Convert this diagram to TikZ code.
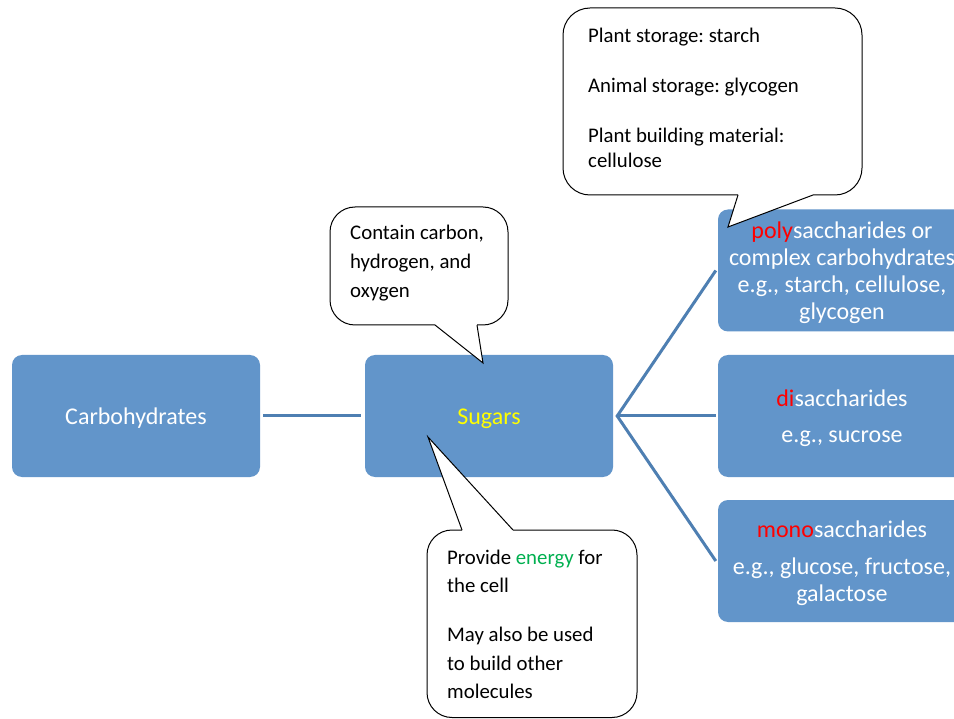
\documentclass[tikz,border=0pt]{standalone}
\usepackage{fontspec}
\setmainfont{Carlito}
\frenchspacing
\definecolor{boxblue}{RGB}{98,149,202}
\definecolor{linkblue}{RGB}{78,127,178}
\definecolor{sugaryellow}{RGB}{255,255,0}
\definecolor{energygreen}{RGB}{0,176,80}
\definecolor{prefixred}{RGB}{255,0,0}
\newcommand\boxstrut{\rule{0pt}{21pt}}
\begin{document}
\begin{tikzpicture}[x=1pt,y=-1pt,
  box/.style={rectangle, rounded corners=10pt, fill=boxblue, text=white,
    minimum width=248pt, minimum height=122pt, inner sep=2pt, align=center,
    font=\fontsize{24}{26.5}\selectfont},
  link/.style={draw=linkblue, line width=3pt},
  bubble/.style={draw=black, line width=1pt, line join=miter},
  bubblefill/.style={fill=white},
  bubbletext/.style={anchor=north west, inner sep=0pt, align=left, text=black}
]
\useasboundingbox (0,0) rectangle (954,719);
\fill[white] (0,0) rectangle (954,719);

% boxes
\node[box] (carb) at (136,416) {\boxstrut Carbohydrates};
\node[box] (sugars) at (489,416) {\boxstrut\textcolor{sugaryellow}{Sugars}};
\node[box, font=\fontsize{24}{27}\selectfont] (poly) at (842,270.5) {\boxstrut\textcolor{prefixred}{poly}saccharides or\\complex carbohydrates\\e.g., starch, cellulose,\\glycogen};
\node[box] (di) at (842,416) {\boxstrut\textcolor{prefixred}{di}saccharides\\[9.5pt]e.g., sucrose};
\node[box] (mono) at (842,561) {\boxstrut\textcolor{prefixred}{mono}saccharides\\[10.5pt]e.g., glucose, fructose,\\galactose};

% connectors
\draw[link] ([xshift=3pt]carb.east) -- ([xshift=-4pt]sugars.west);
\coordinate (fork) at ([xshift=4pt]sugars.east);
\draw[link] ([xshift=-2pt]poly.west) -- (fork) -- ([xshift=-2pt]mono.west);
\draw[link] (fork) -- ([xshift=-2pt]di.west);

% callout 1
\fill[bubblefill, rounded corners=25pt] (330,207) rectangle (508,325);
\fill[bubblefill] (435,325) -- (483,363) -- (477,325) -- cycle;
\draw[bubble, rounded corners=25pt] (435,325) -- (330,325) -- (330,207) -- (508,207) -- (508,325) -- (477,325);
\draw[bubble] (477,325) -- (483,363) -- (435,325);
\node[bubbletext, font=\fontsize{20.8}{29}\selectfont] (c1) at (350,224)
  {\rule{0pt}{15pt}Contain carbon,\\hydrogen, and\\oxygen};

% callout 2
\fill[bubblefill, rounded corners=27pt] (563,8) rectangle (862,195);
\fill[bubblefill] (738,195) -- (728,227) -- (813,195) -- cycle;
\draw[bubble, rounded corners=27pt] (738,195) -- (563,195) -- (563,8) -- (862,8) -- (862,195) -- (813,195);
\draw[bubble] (813,195) -- (728,227) -- (738,195);
\node[bubbletext, font=\fontsize{20.8}{25}\selectfont] (c2) at (588,27)
  {\rule{0pt}{15pt}Plant storage: starch\\[25.5pt]Animal storage: glycogen\\[25pt]Plant building material:\\cellulose};

% callout 3
\fill[bubblefill, rounded corners=25pt] (427,530) rectangle (637,717.5);
\fill[bubblefill] (462,530) -- (428,437) -- (513,530) -- cycle;
\draw[bubble, rounded corners=25pt] (462,530) -- (427,530) -- (427,717.5) -- (637,717.5) -- (637,530) -- (513,530);
\draw[bubble] (513,530) -- (428,437) -- (462,530);
\node[bubbletext, font=\fontsize{20.8}{28.5}\selectfont] (c3) at (447,549)
  {\rule{0pt}{15pt}Provide \textcolor{energygreen}{energy} for\\the cell\\[20.5pt]May also be used\\to build other\\molecules};
\end{tikzpicture}
\end{document}
